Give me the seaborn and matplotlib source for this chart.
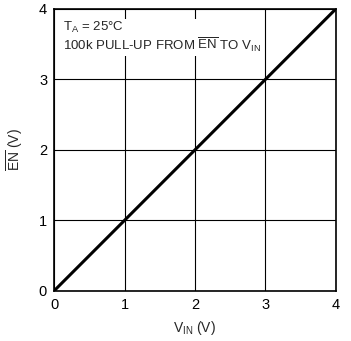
import matplotlib
matplotlib.use('Agg')
import matplotlib.pyplot as plt
import seaborn as sns
import pandas as pd

# data
vin = [0, 1, 2, 3, 4]
en = [0, 1, 2, 3, 4]
ticks = [0, 1, 2, 3, 4]

sns.set_style('white')
plt.rcParams['font.family'] = ['Liberation Sans Narrow', 'Liberation Sans', 'DejaVu Sans']
plt.rcParams['mathtext.fontset'] = 'custom'
plt.rcParams['mathtext.rm'] = 'Liberation Sans'
plt.rcParams['mathtext.it'] = 'Liberation Sans'

df = pd.DataFrame({'vin': vin, 'en': en})

fig = plt.figure(figsize=(3.51, 3.41), dpi=100)
ax = fig.add_axes([0.154, 0.147, 0.803, 0.827])
sns.lineplot(data=df, x='vin', y='en', color='black', linewidth=2.2, ax=ax)

ax.set_xlim(0, 4)
ax.set_ylim(0, 4)
ax.set_xticks(ticks)
ax.set_yticks(ticks)
ax.tick_params(length=0, labelsize=10.5, pad=5, colors='black')
ax.grid(True, color='black', linewidth=0.8)
for s in ax.spines.values():
    s.set_color('black')
    s.set_linewidth(1.2)

ax.set_xlabel(r'V$_{\mathrm{IN}}$ (V)', fontsize=10, labelpad=5)
ax.set_ylabel(r'$\overline{\mathrm{EN}}$ (V)', fontsize=10, labelpad=10)

ax.text(0.13, 3.84, r'T$_{\mathrm{A}}$ = 25°C' + '\n' + r'100k PULL-UP FROM $\overline{\mathrm{EN}}$ TO V$_{\mathrm{IN}}$',
        fontsize=9.5, va='top', ha='left', linespacing=1.05,
        bbox=dict(facecolor='white', edgecolor='none', pad=1))

fig.savefig('out.png', dpi=100)
